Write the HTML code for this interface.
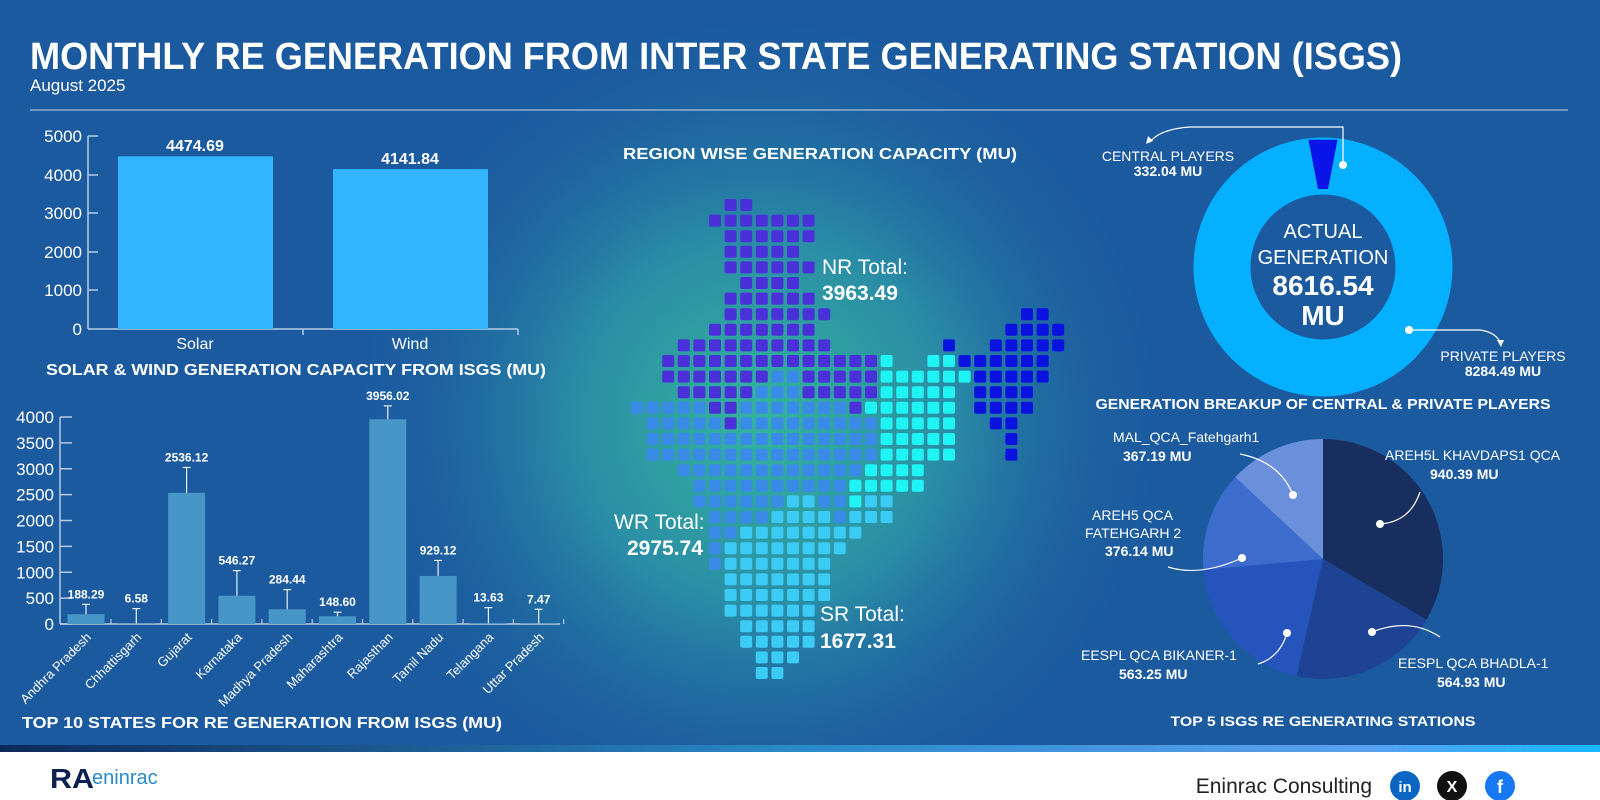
<!DOCTYPE html>
<html><head><meta charset="utf-8">
<style>
html,body{margin:0;padding:0;width:1600px;height:800px;overflow:hidden;background:#1b5a9f;}
svg{display:block;font-family:"Liberation Sans",sans-serif;}
</style></head>
<body>
<svg id="s" width="1600" height="800" viewBox="0 0 1600 800" xmlns="http://www.w3.org/2000/svg">
<defs>
<radialGradient id="glow" cx="760" cy="420" r="420" gradientUnits="userSpaceOnUse">
<stop offset="0" stop-color="#34b59c"/><stop offset="0.45" stop-color="#2a8ca6"/><stop offset="1" stop-color="#1b5a9f" stop-opacity="0"/>
</radialGradient>
<linearGradient id="line" x1="0" x2="1"><stop offset="0" stop-color="#0d2a5a"/><stop offset="0.5" stop-color="#2a8ac8"/><stop offset="0.85" stop-color="#5aa0f0"/><stop offset="1" stop-color="#18b8ff"/></linearGradient>
</defs>
<rect width="1600" height="800" fill="#1b5a9f"/>
<rect x="0" y="0" width="1600" height="750" fill="url(#glow)"/>

<g transform="translate(0,2)">
<text x="30" y="67" fill="#fff" font-size="38" font-weight="bold" textLength="1372" lengthAdjust="spacingAndGlyphs">MONTHLY RE GENERATION FROM INTER STATE GENERATING STATION (ISGS)</text>
<text x="30" y="89" fill="#fff" font-size="17">August 2025</text>
<line x1="30" y1="108" x2="1568" y2="108" stroke="#c8d8ec" stroke-width="1"/>

<g fill="#fff" font-size="17">
<line x1="88" y1="134" x2="88" y2="327" stroke="#b8cbe2" stroke-width="1.5"/>
<line x1="88" y1="327" x2="518" y2="327" stroke="#b8cbe2" stroke-width="1.5"/>
<g stroke="#b8cbe2" stroke-width="1.5">
<line x1="88" y1="134" x2="98" y2="134"/><line x1="88" y1="173" x2="98" y2="173"/><line x1="88" y1="211" x2="98" y2="211"/><line x1="88" y1="250" x2="98" y2="250"/><line x1="88" y1="288" x2="98" y2="288"/>
<line x1="303" y1="327" x2="303" y2="333"/><line x1="518" y1="327" x2="518" y2="333"/>
</g>
<g text-anchor="end"><text x="82" y="140">5000</text><text x="82" y="179">4000</text><text x="82" y="217">3000</text><text x="82" y="256">2000</text><text x="82" y="294">1000</text><text x="82" y="333">0</text></g>
<rect x="118" y="154.3" width="155" height="172.7" fill="#33b5ff"/>
<rect x="333" y="167.1" width="155" height="159.9" fill="#33b5ff"/>
<text x="195" y="149" text-anchor="middle" font-weight="bold" font-size="16">4474.69</text>
<text x="410" y="162" text-anchor="middle" font-weight="bold" font-size="16">4141.84</text>
<text x="195" y="347" text-anchor="middle" font-size="16">Solar</text>
<text x="410" y="347" text-anchor="middle" font-size="16">Wind</text>
<text x="296" y="373" text-anchor="middle" font-weight="bold" font-size="16" textLength="500" lengthAdjust="spacingAndGlyphs">SOLAR &amp; WIND GENERATION CAPACITY FROM ISGS (MU)</text>
</g>

<g id="bl" fill="#fff"></g>
<text x="262" y="726" text-anchor="middle" fill="#fff" font-weight="bold" font-size="16" textLength="480" lengthAdjust="spacingAndGlyphs">TOP 10 STATES FOR RE GENERATION FROM ISGS (MU)</text>

<text x="820" y="157" text-anchor="middle" fill="#fff" font-weight="bold" font-size="16" textLength="394" lengthAdjust="spacingAndGlyphs">REGION WISE GENERATION CAPACITY (MU)</text>

<circle cx="1323" cy="265" r="101" fill="none" stroke="#04b0ff" stroke-width="57"/>
<path d="M1308.5 137.8 L1337.5 137.8 L1328 187 L1318 187 Z" fill="#0a14e8"/>
<circle cx="1323" cy="265" r="72" fill="#1b5a9f"/>
<g fill="#fff" text-anchor="middle">
<text x="1323" y="236" font-size="20">ACTUAL</text>
<text x="1323" y="262" font-size="20">GENERATION</text>
<text x="1323" y="293" font-size="28" font-weight="bold">8616.54</text>
<text x="1323" y="323" font-size="28" font-weight="bold">MU</text>
</g>
<circle cx="1343" cy="163" r="4" fill="#fff"/>
<path d="M1343 163 V125 H1190 Q1160 127 1150 140" fill="none" stroke="#fff" stroke-width="1.2"/>
<path d="M1146 142 l2 -8 l5 5 z" fill="#fff"/>
<circle cx="1409" cy="328" r="4" fill="#fff"/>
<path d="M1409 328 H1480 Q1495 330 1500 340" fill="none" stroke="#fff" stroke-width="1.2"/>
<path d="M1501 345 l-4 -7 l7 0 z" fill="#fff"/>
<g fill="#fff" text-anchor="middle" font-size="14">
<text x="1168" y="159">CENTRAL PLAYERS</text>
<text x="1168" y="174" font-weight="bold">332.04 MU</text>
<text x="1503" y="359">PRIVATE PLAYERS</text>
<text x="1503" y="374" font-weight="bold">8284.49 MU</text>
</g>
<text x="1323" y="407" text-anchor="middle" fill="#fff" font-weight="bold" font-size="15" textLength="455" lengthAdjust="spacingAndGlyphs">GENERATION BREAKUP OF CENTRAL &amp; PRIVATE PLAYERS</text>

<g id="pie"></g>
<g fill="none" stroke="#fff" stroke-width="1.2">
<path d="M1380 522 Q1410 520 1420 490"/><path d="M1372 630 Q1410 615 1440 635"/><path d="M1287 631 Q1280 655 1258 662"/><path d="M1242 556 Q1200 575 1168 565"/><path d="M1293 493 Q1280 460 1240 452"/>
</g>
<g fill="#fff"><circle cx="1380" cy="522" r="4"/><circle cx="1372" cy="630" r="4"/><circle cx="1287" cy="631" r="4"/><circle cx="1242" cy="556" r="4"/><circle cx="1293" cy="493" r="4"/></g>
<g fill="#fff" font-size="14">
<text x="1385" y="458">AREH5L KHAVDAPS1 QCA</text>
<text x="1430" y="477" font-weight="bold">940.39 MU</text>
<text x="1398" y="666">EESPL QCA BHADLA-1</text>
<text x="1437" y="685" font-weight="bold">564.93 MU</text>
<text x="1081" y="658">EESPL QCA BIKANER-1</text>
<text x="1119" y="677" font-weight="bold">563.25 MU</text>
<text x="1092" y="518">AREH5 QCA</text>
<text x="1085" y="536">FATEHGARH 2</text>
<text x="1105" y="554" font-weight="bold">376.14 MU</text>
<text x="1113" y="440">MAL_QCA_Fatehgarh1</text>
<text x="1123" y="459" font-weight="bold">367.19 MU</text>
</g>
<text x="1323" y="724" text-anchor="middle" fill="#fff" font-weight="bold" font-size="14" textLength="305" lengthAdjust="spacingAndGlyphs">TOP 5 ISGS RE GENERATING STATIONS</text>
</g>

<g id="map"></g>
<g fill="#fff">
<text x="822" y="274" font-size="21">NR Total:</text>
<text x="822" y="300" font-size="21" font-weight="bold">3963.49</text>
<text x="614" y="529" font-size="21">WR Total:</text>
<text x="627" y="555" font-size="21" font-weight="bold">2975.74</text>
<text x="820" y="621" font-size="21">SR Total:</text>
<text x="820" y="648" font-size="21" font-weight="bold">1677.31</text>
</g>

<rect x="0" y="745" width="1600" height="7" fill="url(#line)"/>
<rect x="0" y="752" width="1600" height="48" fill="#fff"/>
<text x="50" y="788" font-size="28" font-weight="bold" fill="#0d2050" textLength="44" lengthAdjust="spacingAndGlyphs">RA</text>
<text x="92" y="784" font-size="20" fill="#2a8ac8">eninrac</text>
<text x="1372" y="793" font-size="21" fill="#222" text-anchor="end">Eninrac Consulting</text>
<circle cx="1405" cy="786" r="15" fill="#0a66c2"/><text x="1405" y="792" text-anchor="middle" fill="#fff" font-size="15" font-weight="bold">in</text>
<circle cx="1452" cy="786" r="15" fill="#111"/><text x="1452" y="792" text-anchor="middle" fill="#fff" font-size="16" font-weight="bold">X</text>
<circle cx="1500" cy="786" r="15" fill="#1877f2"/><text x="1500" y="793" text-anchor="middle" fill="#fff" font-size="18" font-weight="bold">f</text>
</svg>
<script>
var NS="http://www.w3.org/2000/svg";
function el(p,t,a,txt){var e=document.createElementNS(NS,t);for(var k in a)e.setAttribute(k,a[k]);if(txt!=null)e.textContent=txt;p.appendChild(e);return e;}
var bl=document.getElementById('bl');
var y0=622,sc=207/4000,ax=60;
var S="#b8cbe2";
el(bl,'line',{x1:ax,y1:y0-4000*sc,x2:ax,y2:y0,stroke:S,'stroke-width':1.5});
el(bl,'line',{x1:ax,y1:y0,x2:560,y2:y0,stroke:S,'stroke-width':1.5});
for(var v=0;v<=4000;v+=500){var y=y0-v*sc;el(bl,'line',{x1:ax,y1:y,x2:ax+12,y2:y,stroke:S,'stroke-width':1.5});el(bl,'text',{x:ax-6,y:y+6,'text-anchor':'end','font-size':17},v);}
var st=[["Andhra Pradesh",188.29,380],["Chhattisgarh",6.58,297],["Gujarat",2536.12,3025],["Karnataka",546.27,1032],["Madhya Pradesh",284.44,665],["Maharashtra",148.60,228],["Rajasthan",3956.02,4215],["Tamil Nadu",929.12,1228],["Telangana",13.63,316],["Uttar Pradesh",7.47,285]];
st.forEach(function(d,i){var cx=86+50.3*i;var top=y0-d[1]*sc,wt=y0-d[2]*sc;
el(bl,'rect',{x:cx-18.5,y:top,width:37,height:d[1]*sc,fill:'#4896c8'});
el(bl,'line',{x1:cx,y1:top,x2:cx,y2:wt,stroke:'#e8f0f8','stroke-width':1.2});
el(bl,'line',{x1:cx-4,y1:wt,x2:cx+4,y2:wt,stroke:'#e8f0f8','stroke-width':1.2});
el(bl,'line',{x1:cx+25,y1:y0,x2:cx+25,y2:y0-5,stroke:S,'stroke-width':1.2});
el(bl,'text',{x:cx,y:wt-6,'text-anchor':'middle','font-size':12,'font-weight':'bold'},d[1].toFixed(2));
el(bl,'text',{x:cx+6,y:y0+14,'text-anchor':'end','font-size':13,transform:'rotate(-45 '+(cx+6)+' '+(y0+14)+')'},d[0]);
});
var P="#4a30d8",B="#3a8ae8",C="#1ff3f3",L="#3ccbf5",D="#0a12e0";
var rows={0:[[6,7,P]],1:[[5,11,P]],2:[[6,11,P]],3:[[6,10,P]],4:[[6,11,P]],5:[[7,10,P]],6:[[6,11,P]],7:[[6,12,P],[25,26,D]],8:[[5,11,P],[24,27,D]],9:[[3,12,P],[20,20,D],[23,27,D]],
10:[[2,15,P],[16,16,C],[19,20,C],[21,26,D]],11:[[2,8,P],[9,10,B],[11,15,P],[16,21,C],[22,26,D]],12:[[3,7,P],[8,10,B],[11,15,P],[16,20,C],[22,25,D]],
13:[[0,0,B],[1,4,B],[5,6,P],[7,13,B],[14,14,P],[15,20,C],[22,25,D]],14:[[1,5,B],[6,6,P],[7,15,B],[16,20,C],[23,24,D]],15:[[1,15,B],[16,20,C],[24,24,D]],16:[[1,15,B],[16,20,C],[24,24,D]],
17:[[3,14,B],[15,18,C]],18:[[4,13,B],[14,18,C]],19:[[4,9,B],[10,11,L],[12,13,B],[14,14,C],[15,16,L]],20:[[5,8,B],[9,12,L],[13,13,B],[14,16,L]],21:[[5,6,B],[7,14,L]],22:[[5,5,B],[6,13,L]],23:[[5,5,B],[6,12,L]],
24:[[6,12,L]],25:[[6,12,L]],26:[[6,11,L]],27:[[7,11,L]],28:[[7,11,L]],29:[[8,10,L]],30:[[8,9,L]]};
var mp=document.getElementById('map');
for(var r in rows){rows[r].forEach(function(s){for(var c=s[0];c<=s[1];c++){el(mp,'rect',{x:631+15.6*c,y:199+15.6*r,width:12,height:12,rx:2,fill:s[2]});}});}
var pie=document.getElementById('pie');var vals=[940.39,564.93,563.25,376.14,367.19],cols=["#172e5e","#1e4294","#2554bd","#3d6dcc","#6a90dc"];
var tot=vals.reduce(function(a,b){return a+b},0),a0=-Math.PI/2,cx=1323,cy=557,R=120;
vals.forEach(function(v,i){var a1=a0+v/tot*2*Math.PI;var x0=cx+R*Math.cos(a0),y0p=cy+R*Math.sin(a0),x1=cx+R*Math.cos(a1),y1=cy+R*Math.sin(a1);
el(pie,'path',{d:'M'+cx+' '+cy+' L'+x0+' '+y0p+' A'+R+' '+R+' 0 '+((a1-a0)>Math.PI?1:0)+' 1 '+x1+' '+y1+' Z',fill:cols[i]});a0=a1;});
</script>
</body></html>
